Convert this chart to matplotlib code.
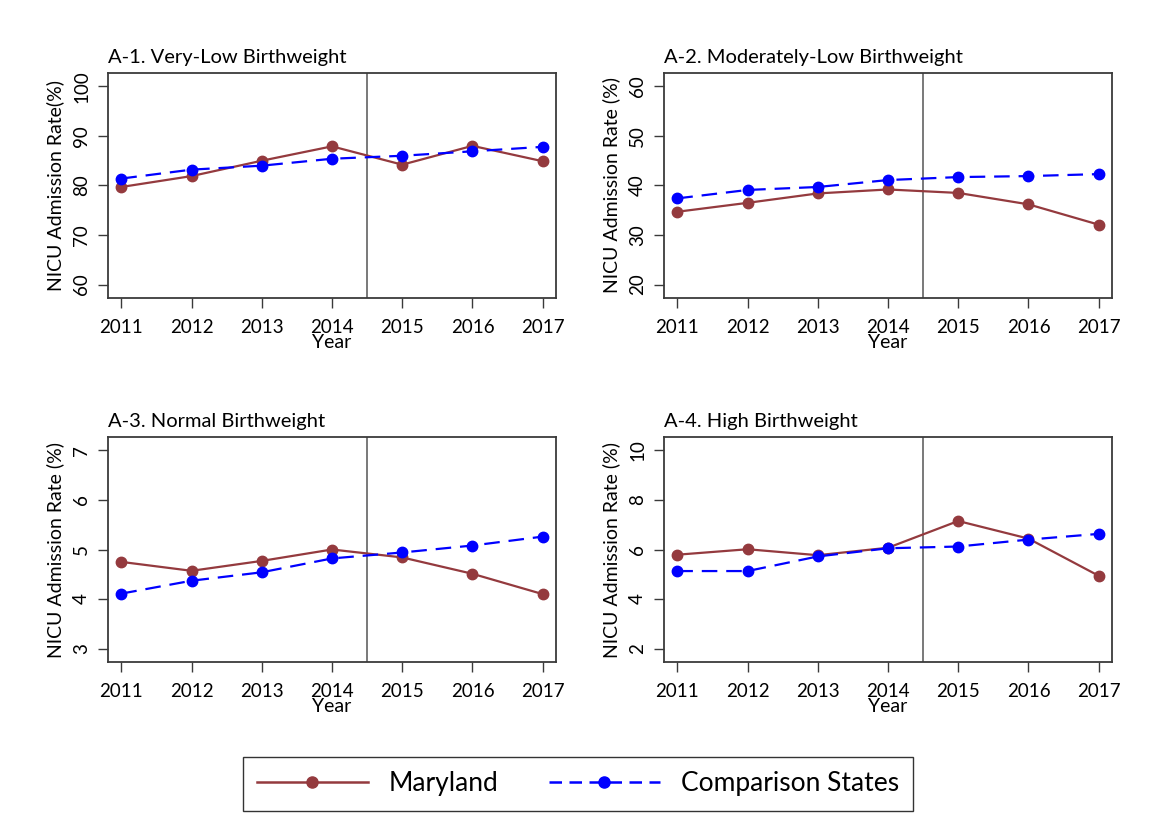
import matplotlib
matplotlib.use("Agg")
import matplotlib.pyplot as plt
from matplotlib.lines import Line2D

plt.rcParams['font.family'] = ['Lato', 'DejaVu Sans']

years = [2011, 2012, 2013, 2014, 2015, 2016, 2017]

titles = ["A-1. Very-Low Birthweight", "A-2. Moderately-Low Birthweight",
          "A-3. Normal Birthweight", "A-4. High Birthweight"]
ylabels = ["NICU Admission Rate(%)", "NICU Admission Rate (%)",
           "NICU Admission Rate (%)", "NICU Admission Rate (%)"]

# Maryland vs comparison states, admission rate in percent
md_vlbw = [79.7, 81.9, 85.0, 87.9, 84.2, 88.0, 84.9]
cs_vlbw = [81.4, 83.2, 84.0, 85.4, 86.0, 86.9, 87.8]
md_mlbw = [34.7, 36.5, 38.4, 39.2, 38.5, 36.2, 32.1]
cs_mlbw = [37.4, 39.1, 39.7, 41.1, 41.7, 41.9, 42.3]
md_nbw = [4.75, 4.57, 4.77, 5.00, 4.84, 4.51, 4.10]
cs_nbw = [4.11, 4.37, 4.54, 4.82, 4.94, 5.08, 5.26]
md_hbw = [5.79, 6.01, 5.77, 6.07, 7.15, 6.44, 4.94]
cs_hbw = [5.13, 5.13, 5.72, 6.05, 6.12, 6.40, 6.63]

maryland = [md_vlbw, md_mlbw, md_nbw, md_hbw]
comparison = [cs_vlbw, cs_mlbw, cs_nbw, cs_hbw]
yticks = [[60, 70, 80, 90, 100], [20, 30, 40, 50, 60],
          [3, 4, 5, 6, 7], [2, 4, 6, 8, 10]]

policy_year = 2014.5
md_color = "#943a3e"
cs_color = "#0000ff"
axis_color = "#3a3a3a"

fig = plt.figure(figsize=(11.5, 8.36), dpi=100)

W, H = 1150, 836
boxes = [(108, 73), (664, 73), (108, 437), (664, 437)]
aw, ah = 448, 225

for i in range(4):
    x0, y0 = boxes[i]
    ax = fig.add_axes([x0 / W, 1 - (y0 + ah) / H, aw / W, ah / H])
    ax.plot(years, maryland[i], color=md_color, lw=1.6, marker='o', ms=7.5,
            zorder=3)
    ax.plot(years, comparison[i], color=cs_color, lw=1.6, ls=(0, (7, 4)),
            marker='o', ms=7.5, zorder=4)
    ax.axvline(policy_year, color="#555555", lw=1.1, zorder=2)

    t = yticks[i]
    step = t[1] - t[0]
    ax.set_ylim(t[0] - 0.27 * step, t[-1] + 0.27 * step)
    ax.set_yticks(t)
    ax.set_yticklabels([str(v) for v in t], rotation=90, va='center')
    ax.set_xlim(2010.81, 2017.19)
    ax.set_xticks(years)

    ax.tick_params(direction='out', length=7, width=1.0, color=axis_color,
                   labelsize=13.5, pad=6)
    ax.tick_params(axis='x', pad=8)
    for s in ax.spines.values():
        s.set_color(axis_color)
        s.set_linewidth(1.3)

    ax.set_title(titles[i], loc='left', fontsize=14.5, pad=7)
    ax.set_xlabel("Year", fontsize=14, labelpad=-1)
    ax.set_ylabel(ylabels[i], fontsize=14, labelpad=6)

handles = [
    Line2D([], [], color=md_color, lw=1.8, marker='o', ms=8),
    Line2D([], [], color=cs_color, lw=1.8, ls=(0, (5, 3)), marker='o', ms=8),
]
fig.legend(handles, ["Maryland", "Comparison States"], loc='center',
           bbox_to_anchor=(578 / W, 1 - 784 / H), ncol=2, fontsize=19,
           frameon=True, fancybox=False, edgecolor='black',
           handlelength=4.2, handletextpad=0.8, columnspacing=1.9,
           borderpad=0.55)

fig.savefig("out.png", dpi=100, facecolor='white')
